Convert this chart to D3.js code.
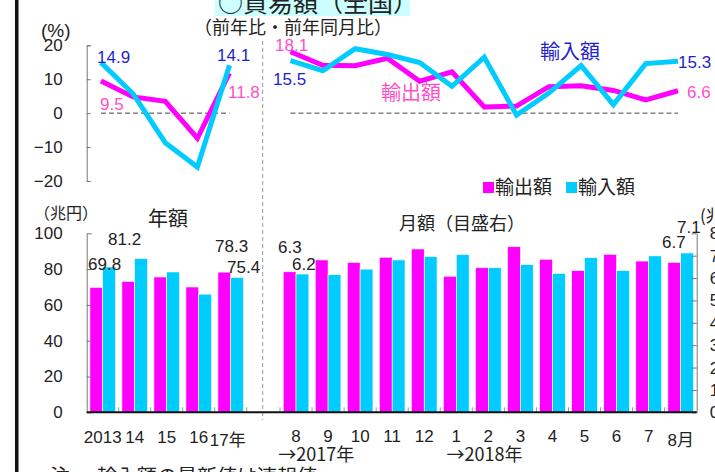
<!DOCTYPE html>
<html>
<head>
<meta charset="utf-8">
<script src="https://cdn.jsdelivr.net/npm/d3@7"></script>
<style>
body { margin: 0; background: #fff; }
text { font-family: "Liberation Sans", "Noto Sans CJK JP", sans-serif; fill: #222; }
.jp { font-family: "Noto Sans CJK JP", sans-serif; }
</style>
</head>
<body>
<script>
// 年次 (前年比 %)
var years = ["2013", "14", "15", "16", "17年"];
var yearExpGrowth = [9.5, 4.8, 3.5, -7.4, 11.8];
var yearImpGrowth = [14.9, 5.7, -8.7, -15.9, 14.1];
// 月次 (前年同月比 %)
var months = ["8", "9", "10", "11", "12", "1", "2", "3", "4", "5", "6", "7", "8月"];
var monthExpGrowth = [18.1, 14.1, 14.0, 16.2, 9.4, 12.2, 1.8, 2.1, 7.8, 8.1, 6.7, 3.9, 6.6];
var monthImpGrowth = [15.5, 12.5, 19.0, 17.3, 14.9, 7.9, 16.5, -0.6, 5.9, 14.0, 2.5, 14.6, 15.3];
// 年額・月額 (兆円)
var yearExp = [69.8, 73.1, 75.6, 70.0, 78.3];
var yearImp = [81.2, 85.9, 78.4, 66.0, 75.4];
var monthExp = [6.28, 6.81, 6.70, 6.93, 7.30, 6.08, 6.46, 7.40, 6.84, 6.33, 7.06, 6.76, 6.70];
var monthImp = [6.18, 6.15, 6.40, 6.81, 6.96, 7.05, 6.46, 6.60, 6.21, 6.91, 6.33, 6.99, 7.12];
var growthTicks = [-20, -10, 0, 10, 20];
var yearTicks = [0, 20, 40, 60, 80, 100];
var monthTicks = [0, 1, 2, 3, 4, 5, 6, 7, 8];
var series = ["輸出額", "輸入額"];

var w = 715, h = 472;
var magenta = "#FF00FF", cyan = "#00CCFF", pink = "#FF4FC8", blue = "#1F1FCC", axisGray = "#777";

var svg = d3.select("body").append("svg")
	.attr("width", w)
	.attr("height", h);

// scales
var yG = d3.scaleLinear().domain([-20, 20]).range([181, 45.3]);
var yA = d3.scaleLinear().domain([0, 100]).range([412.3, 233.3]);
var yM = d3.scaleLinear().domain([0, 8]).range([412.3, 233.3]);
var xGY = d3.scalePoint().domain(years).range([101, 229.5]);
var xGM = d3.scalePoint().domain(d3.range(months.length)).range([290.5, 678]);
var xY = d3.scaleBand().domain(years).range([86.7, 246.7]).paddingInner(0.2).paddingOuter(0.1);
var xM = d3.scaleBand().domain(d3.range(months.length)).range([280, 696.7]).paddingInner(0.2).paddingOuter(0.1);
var xSY = d3.scaleBand().domain(series).range([0, xY.bandwidth()]);
var xSM = d3.scaleBand().domain(series).range([0, xM.bandwidth()]);
var color = d3.scaleOrdinal().domain(series).range([magenta, cyan]);

function frame() {
	svg.append("rect")
		.attr("x", 15).attr("y", 0)
		.attr("width", 3.5).attr("height", h)
		.attr("fill", "#111");
	svg.append("rect")
		.attr("x", 215).attr("y", 0)
		.attr("width", 195).attr("height", 16)
		.attr("fill", "#CCFFFF");
	svg.append("text").attr("class", "jp")
		.attr("x", 218).attr("y", 12)
		.attr("font-size", 25)
		.text("○貿易額（全国）");
	svg.append("text").attr("class", "jp")
		.attr("x", 194).attr("y", 34)
		.attr("font-size", 18)
		.text("（前年比・前年同月比）");
	// divider
	svg.append("line")
		.attr("x1", 262.7).attr("x2", 262.7)
		.attr("y1", 41).attr("y2", 420)
		.attr("stroke", "#999")
		.attr("stroke-dasharray", "4,3");
	// note
	svg.append("text").attr("class", "jp")
		.attr("x", 50).attr("y", 484)
		.attr("font-size", 20)
		.text("注");
	svg.append("text").attr("class", "jp")
		.attr("x", 97).attr("y", 484)
		.attr("font-size", 20)
		.text("輸入額の最新値は速報値");
}

function growthCharts() {
	// y axis
	var ax = svg.append("g")
		.attr("transform", "translate(86.7,0)")
		.call(d3.axisLeft(yG).tickValues(growthTicks).tickSize(-4).tickSizeOuter(-4).tickPadding(24).tickFormat(function(d) { return d < 0 ? "−" + (-d) : d; }));
	ax.select(".domain").attr("stroke", axisGray);
	ax.selectAll(".tick line").attr("stroke", axisGray);
	ax.selectAll("text").attr("font-size", 17).attr("font-family", "Liberation Sans").attr("fill", "#222");
	svg.append("text")
		.attr("x", 41).attr("y", 37)
		.attr("font-size", 19)
		.text("(%)");

	// zero lines
	svg.append("line")
		.attr("x1", xGY(years[0])).attr("x2", xGY(years[4]))
		.attr("y1", yG(0)).attr("y2", yG(0))
		.attr("stroke", "#444").attr("stroke-dasharray", "5,3");
	svg.append("line")
		.attr("x1", xGM(0)).attr("x2", xGM(12))
		.attr("y1", yG(0)).attr("y2", yG(0))
		.attr("stroke", "#444").attr("stroke-dasharray", "5,3");

	var lineY = d3.line().x(function(d, i) { return xGY(years[i]); }).y(function(d) { return yG(d); });
	var lineM = d3.line().x(function(d, i) { return xGM(i); }).y(function(d) { return yG(d); });
	[[yearExpGrowth, magenta, lineY], [yearImpGrowth, cyan, lineY],
	 [monthExpGrowth, magenta, lineM], [monthImpGrowth, cyan, lineM]].forEach(function(s) {
		svg.append("path")
			.attr("d", s[2](s[0]))
			.attr("fill", "none")
			.attr("stroke", s[1])
			.attr("stroke-width", 5);
	});

	// value labels
	var labels = [
		[yearImpGrowth[0], 97, 63, blue],
		[yearExpGrowth[0], 100, 110, pink],
		[yearImpGrowth[4], 217, 61, blue],
		[yearExpGrowth[4], 228, 98, pink],
		[monthExpGrowth[0], 275, 51, pink],
		[monthImpGrowth[0], 273, 85, blue],
		[monthImpGrowth[12], 678, 68, blue],
		[monthExpGrowth[12], 687, 98, pink]
	];
	labels.forEach(function(l) {
		svg.append("text")
			.attr("x", l[1]).attr("y", l[2])
			.attr("font-size", 17)
			.style("fill", l[3])
			.text(l[0].toFixed(1));
	});
	svg.append("text").attr("class", "jp")
		.attr("x", 381).attr("y", 100)
		.attr("font-size", 20)
		.style("fill", pink)
		.text("輸出額");
	svg.append("text").attr("class", "jp")
		.attr("x", 540).attr("y", 59)
		.attr("font-size", 20)
		.style("fill", blue)
		.text("輸入額");

	// legend
	var lg = svg.append("g").attr("transform", "translate(483,182)");
	series.forEach(function(s, i) {
		lg.append("rect")
			.attr("x", i * 83).attr("y", 0)
			.attr("width", 11).attr("height", 11)
			.attr("fill", color(s));
		lg.append("text").attr("class", "jp")
			.attr("x", i * 83 + 12).attr("y", 12)
			.attr("font-size", 19)
			.text(s);
	});
}

function barCharts() {
	// annual bars
	years.forEach(function(y, i) {
		[yearExp[i], yearImp[i]].forEach(function(v, j) {
			svg.append("rect")
				.attr("x", xY(y) + xSY(series[j]))
				.attr("y", yA(v))
				.attr("width", xSY.bandwidth())
				.attr("height", yA(0) - yA(v))
				.attr("fill", color(series[j]))
				.attr("stroke", "#fff").attr("stroke-width", 0.6);
		});
	});
	// monthly bars
	months.forEach(function(m, i) {
		[monthExp[i], monthImp[i]].forEach(function(v, j) {
			svg.append("rect")
				.attr("x", xM(i) + xSM(series[j]))
				.attr("y", yM(v))
				.attr("width", xSM.bandwidth())
				.attr("height", yM(0) - yM(v))
				.attr("fill", color(series[j]))
				.attr("stroke", "#fff").attr("stroke-width", 0.6);
		});
	});

	// left axis
	var al = svg.append("g")
		.attr("transform", "translate(86.7,0)")
		.call(d3.axisLeft(yA).tickValues(yearTicks).tickSize(-5).tickSizeOuter(0).tickPadding(24));
	al.select(".domain").attr("stroke", axisGray);
	al.selectAll(".tick line").attr("stroke", axisGray);
	al.selectAll("text").attr("font-size", 17).attr("font-family", "Liberation Sans").attr("fill", "#222");
	// right axis
	var ar = svg.append("g")
		.attr("transform", "translate(696.7,0)")
		.call(d3.axisRight(yM).tickValues(monthTicks).tickSize(-5).tickSizeOuter(0).tickPadding(13));
	ar.select(".domain").attr("stroke", axisGray);
	ar.selectAll(".tick line").attr("stroke", axisGray);
	ar.selectAll("text").attr("font-size", 17).attr("font-family", "Liberation Sans").attr("fill", "#222");

	// category ticks on baseline
	var step = xY.step();
	years.forEach(function(y, i) {
		var x = xY.range()[0] + (i + 1) * step;
		svg.append("line")
			.attr("x1", x).attr("x2", x)
			.attr("y1", yA(0)).attr("y2", yA(0) - 5)
			.attr("stroke", "#999");
	});
	months.forEach(function(m, i) {
		var x = xM.range()[0] + i * xM.step();
		svg.append("line")
			.attr("x1", x).attr("x2", x)
			.attr("y1", yM(0)).attr("y2", yM(0) - 5)
			.attr("stroke", "#999");
	});
	svg.append("line")
		.attr("x1", 86.7).attr("x2", 696.7)
		.attr("y1", yA(0)).attr("y2", yA(0))
		.attr("stroke", "#111").attr("stroke-width", 2);

	// category labels
	years.forEach(function(y, i) {
		svg.append("text")
			.attr("x", xY(y) + xY.bandwidth() / 2 - (i == 4 ? 3 : 0))
			.attr("y", i == 4 ? 446 : 443)
			.attr("text-anchor", "middle")
			.attr("font-size", 17)
			.text(y);
	});
	months.forEach(function(m, i) {
		svg.append("text")
			.attr("x", xM(i) + xM.bandwidth() / 2)
			.attr("y", i == 12 ? 446 : 442)
			.attr("text-anchor", "middle")
			.attr("font-size", 17)
			.text(m);
	});
	svg.append("text").attr("class", "jp")
		.attr("x", xM(0) - 5).attr("y", 461)
		.attr("font-size", 18)
		.text("→2017年");
	svg.append("text").attr("class", "jp")
		.attr("x", xM(5) + 3).attr("y", 461)
		.attr("font-size", 18)
		.text("→2018年");

	// titles
	svg.append("text").attr("class", "jp")
		.attr("x", 34).attr("y", 219)
		.attr("font-size", 16)
		.text("（兆円）");
	svg.append("text").attr("class", "jp")
		.attr("x", 148).attr("y", 226)
		.attr("font-size", 20)
		.text("年額");
	svg.append("text").attr("class", "jp")
		.attr("x", 399).attr("y", 230)
		.attr("font-size", 18)
		.text("月額（目盛右）");
	svg.append("text").attr("class", "jp")
		.attr("x", 700).attr("y", 222)
		.attr("font-size", 17)
		.text("(兆円)");

	// value labels
	var vals = [
		[yearExp[0], 88, 270], [yearImp[0], 108, 245],
		[yearExp[4], 215, 252], [yearImp[4], 227, 273],
		[monthExp[0], 278, 253], [monthImp[0], 292, 270],
		[monthExp[12], 662, 248], [monthImp[12], 677, 233]
	];
	vals.forEach(function(v) {
		svg.append("text")
			.attr("x", v[1]).attr("y", v[2])
			.attr("font-size", 17)
			.text(v[0].toFixed(1));
	});
}

frame();
barCharts();
growthCharts();
</script>
</body>
</html>
